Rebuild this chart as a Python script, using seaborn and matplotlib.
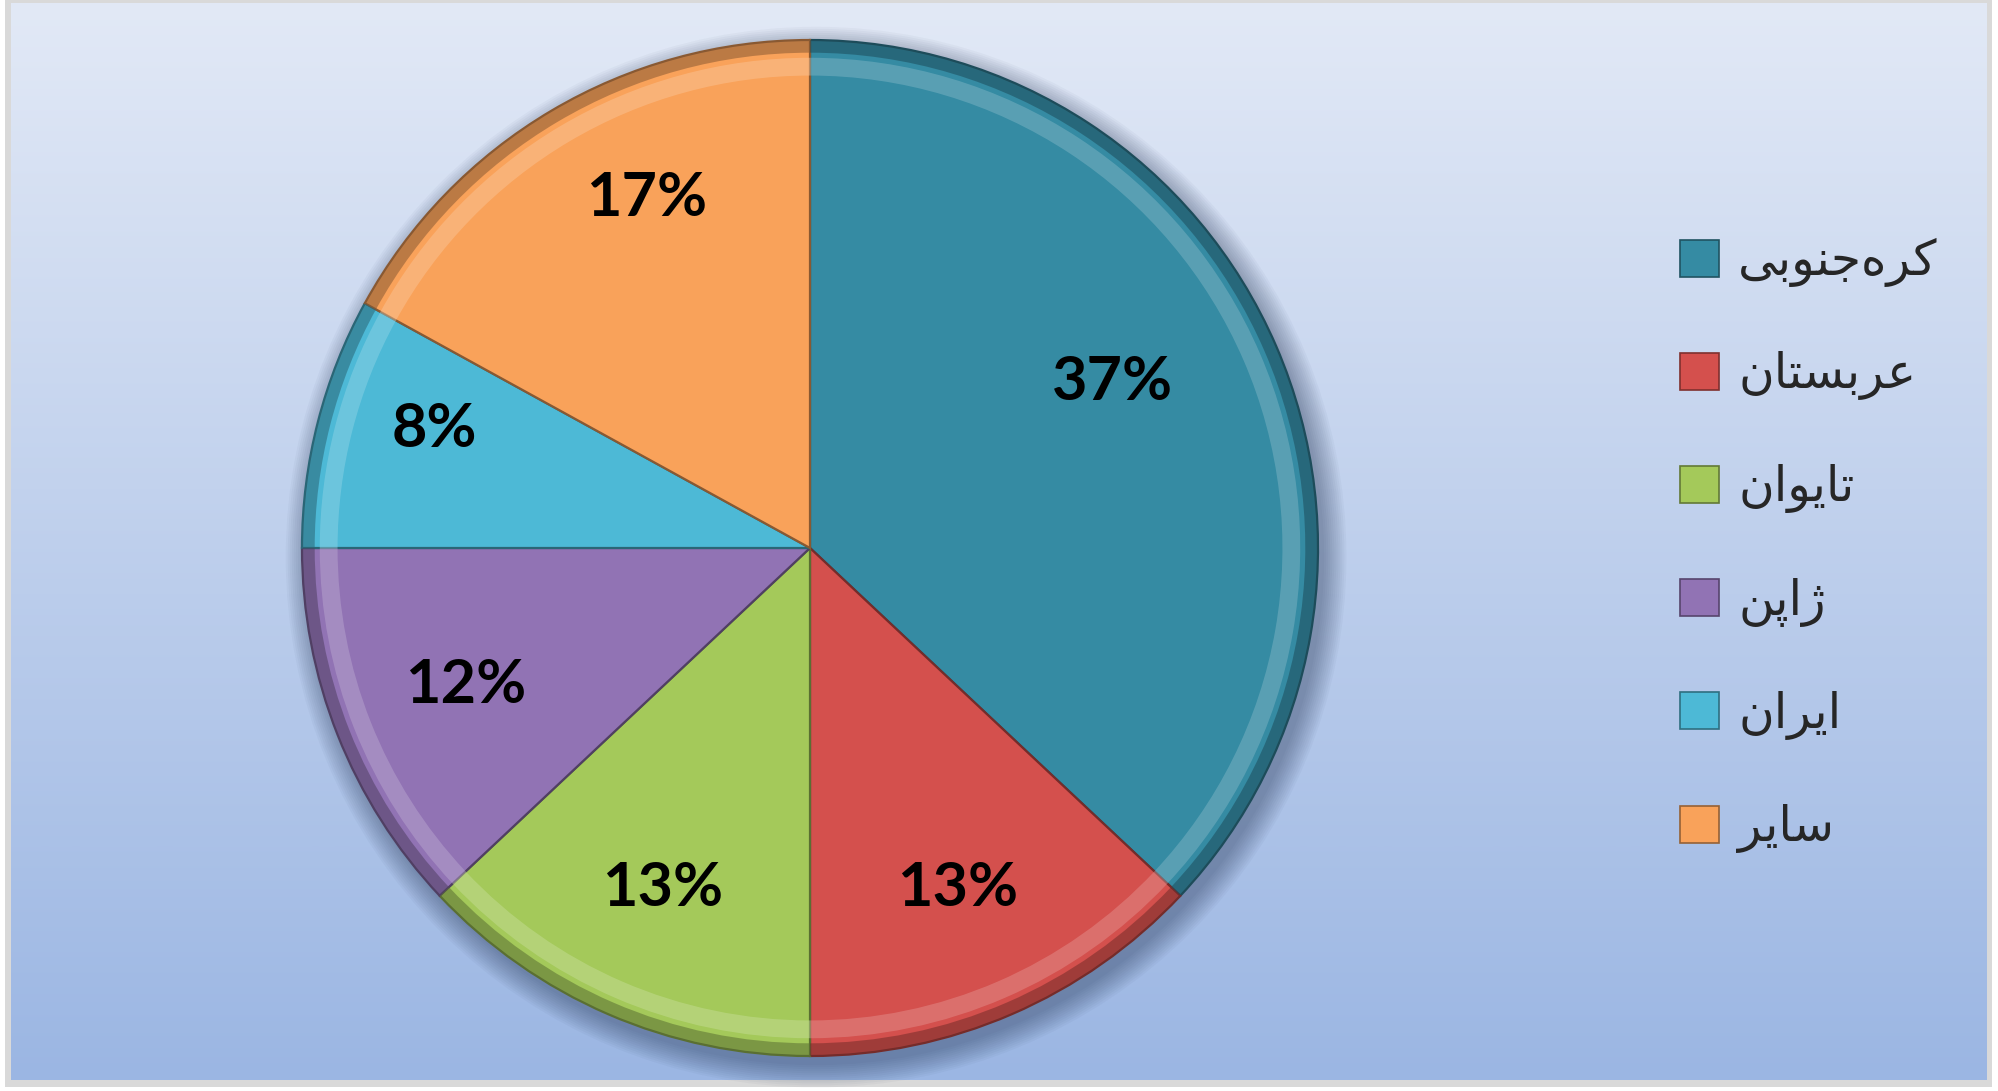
import numpy as np
import matplotlib
matplotlib.use("Agg")
import matplotlib.pyplot as plt
import matplotlib.colors as mcolors
from matplotlib.patches import Patch, Rectangle, Circle
import seaborn as sns

# ---------------- data ----------------
categories = ['کره\u200cجنوبی', 'عربستان', 'تایوان', 'ژاپن', 'ایران', 'سایر']
shares = [37, 13, 13, 12, 8, 17]
colors = ['#358ba3', '#d4504d', '#a4c95a', '#9173b4', '#4db9d6', '#f9a25a']

# ------------- Arabic shaping helper (matplotlib has no shaping/bidi) -------------
FORMS = {
    '\u0627': ('\uFE8D', '\uFE8E', None, None),
    '\u0628': ('\uFE8F', '\uFE90', '\uFE91', '\uFE92'),
    '\u067E': ('\uFB56', '\uFB57', '\uFB58', '\uFB59'),
    '\u062A': ('\uFE95', '\uFE96', '\uFE97', '\uFE98'),
    '\u062C': ('\uFE9D', '\uFE9E', '\uFE9F', '\uFEA0'),
    '\u0631': ('\uFEAD', '\uFEAE', None, None),
    '\u0698': ('\uFB8A', '\uFB8B', None, None),
    '\u0633': ('\uFEB1', '\uFEB2', '\uFEB3', '\uFEB4'),
    '\u0639': ('\uFEC9', '\uFECA', '\uFECB', '\uFECC'),
    '\u06A9': ('\uFB8E', '\uFB8F', '\uFB90', '\uFB91'),
    '\u0646': ('\uFEE5', '\uFEE6', '\uFEE7', '\uFEE8'),
    '\u0647': ('\uFEE9', '\uFEEA', '\uFEEB', '\uFEEC'),
    '\u0648': ('\uFEED', '\uFEEE', None, None),
    '\u06CC': ('\uFBFC', '\uFBFD', '\uFBFE', '\uFBFF'),
}


def shape(s):
    chars = list(s)
    out = []
    for i, c in enumerate(chars):
        if c not in FORMS:
            if c == '\u200c':
                continue
            out.append(c)
            continue
        prev = chars[i - 1] if i > 0 else None
        nxt = chars[i + 1] if i + 1 < len(chars) else None
        f = FORMS[c]
        jp = prev in FORMS and FORMS[prev][2] is not None
        jn = f[2] is not None and nxt in FORMS
        if jp and jn:
            g = f[3]
        elif jp:
            g = f[1]
        elif jn:
            g = f[2]
        else:
            g = f[0]
        out.append(g)
    return ''.join(reversed(out))


sns.set_theme(style='white')
plt.rcParams['font.family'] = ['Lato', 'DejaVu Sans']

W, H = 1998, 1091
fig = plt.figure(figsize=(W / 100, H / 100), dpi=100)
fig.patch.set_facecolor('white')

# ---------------- background frame + gradient ----------------
bg = fig.add_axes([0, 0, 1, 1])
bg.set_xlim(0, W)
bg.set_ylim(H, 0)
bg.axis('off')
bg.add_patch(Rectangle((5, 0), 1987, 1087, facecolor='#d9d9d9', edgecolor='none'))
top = np.array(mcolors.to_rgb('#e2e9f6'))
bot = np.array(mcolors.to_rgb('#9bb6e3'))
t = np.linspace(0, 1, 256)[:, None]
grad = (top[None, :] * (1 - t) + bot[None, :] * t)[:, None, :]
bg.imshow(grad, extent=(11, 1987, 1080, 3), aspect='auto', interpolation='bicubic', zorder=1)

# ---------------- pie ----------------
cx, cy, r = 810, 548, 508
ax = fig.add_axes([(cx - 1.08 * r) / W, (H - cy - 1.08 * r) / H, 2.16 * r / W, 2.16 * r / H])
ax.set_aspect('equal')
ax.axis('off')

# soft drop shadow
for k in range(12):
    ax.add_patch(Circle((0.012, -0.018), 1.0 + 0.004 * k, facecolor='#1a2a4a',
                        alpha=0.035, edgecolor='none', zorder=0))

edge_cols = [tuple(np.array(mcolors.to_rgb(c)) * 0.55) for c in colors]
wedges, _, autotexts = ax.pie(
    shares, colors=colors, startangle=90, counterclock=False,
    autopct='%d%%', pctdistance=0.73, radius=1.0,
    wedgeprops=dict(linewidth=0),
    textprops=dict(fontsize=44, fontweight='bold', color='black', family=['Lato', 'DejaVu Sans']),
)
for w in wedges:
    w.set_zorder(2)
for a in autotexts:
    a.set_zorder(6)

# bevel: light inner rim and darker outer rim
light = [tuple(np.clip(np.array(mcolors.to_rgb(c)) * 0.6 + 0.4, 0, 1)) for c in colors]
rim, _ = ax.pie(shares, colors=light, startangle=90, counterclock=False, radius=0.965,
                wedgeprops=dict(width=0.035, linewidth=0, alpha=0.45))
for w in rim:
    w.set_zorder(3)
dark, _ = ax.pie(shares, colors=edge_cols, startangle=90, counterclock=False, radius=1.0,
                 wedgeprops=dict(width=0.025, linewidth=0, alpha=0.55))
for w in dark:
    w.set_zorder(3)
# slice borders
for w, ec in zip(wedges, edge_cols):
    w.set_edgecolor(ec)
    w.set_linewidth(1.6)

# label placement tweaks (polar angle in degrees, distance as fraction of radius)
label_polar = {0: (28.8, 0.68), 5: (115.0, 0.76), 4: (162.4, 0.775)}
for i, (angd, dist) in label_polar.items():
    a_ = np.deg2rad(angd)
    autotexts[i].set_position((dist * np.cos(a_), dist * np.sin(a_)))

ax.set_xlim(-1.08, 1.08)
ax.set_ylim(-1.08, 1.08)

# ---------------- legend ----------------
handles = [Patch(facecolor=c, edgecolor=tuple(np.array(mcolors.to_rgb(c)) * 0.6), linewidth=1.2)
           for c in colors]
leg = fig.legend(handles, [shape(c) for c in categories],
                 loc='center left', bbox_to_anchor=(1680 / W, 1 - 545 / H),
                 frameon=False, borderpad=0, borderaxespad=0,
                 handlelength=0.8, handleheight=0.8,
                 handletextpad=0.4, labelspacing=1.3,
                 prop=dict(family=['DejaVu Sans'], size=35))

fig.savefig('out.png', dpi=100, facecolor=fig.get_facecolor())
